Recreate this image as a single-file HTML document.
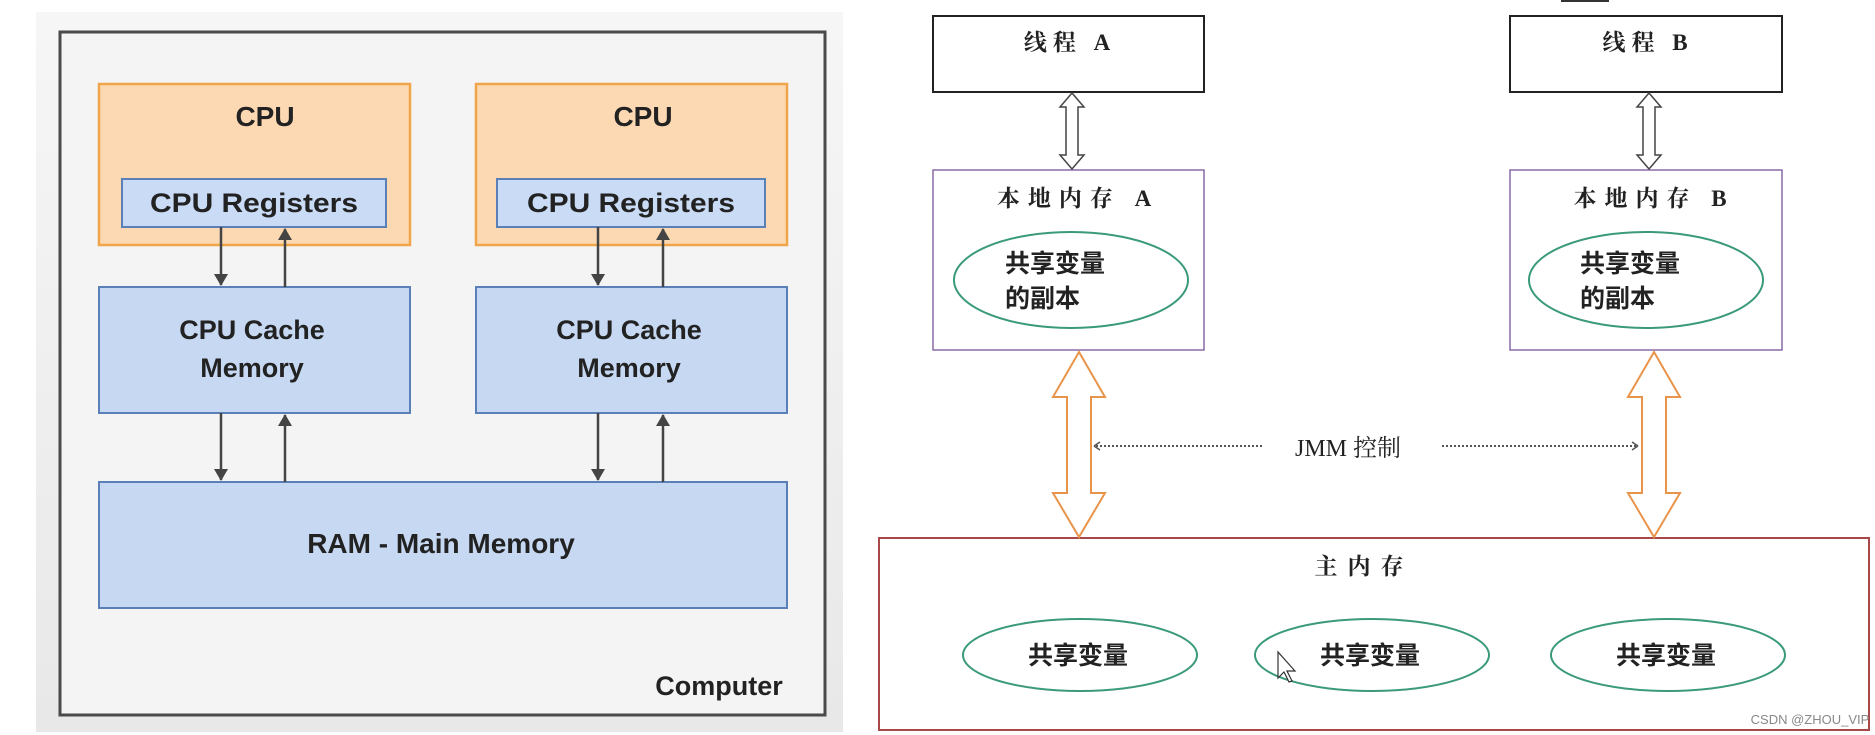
<!DOCTYPE html>
<html><head><meta charset="utf-8"><style>
html,body{margin:0;padding:0;background:#fff;}
svg{display:block;}
</style></head><body>
<svg width="1875" height="735" viewBox="0 0 1875 735" xmlns="http://www.w3.org/2000/svg">
<defs>
<linearGradient id="bg" x1="0" y1="0" x2="0" y2="1"><stop offset="0" stop-color="#f6f6f6"/><stop offset="1" stop-color="#e8e8e8"/></linearGradient>
<marker id="ah" markerWidth="12" markerHeight="14" refX="11" refY="7" orient="auto" markerUnits="userSpaceOnUse"><path d="M0,0 L12,7 L0,14 z" fill="#444"/></marker>
</defs>
<rect x="36" y="12" width="807" height="720" fill="url(#bg)"/>
<rect x="60" y="32" width="765" height="683" fill="#f4f4f4" stroke="#4a4a4a" stroke-width="3"/>
<g font-family="Liberation Sans, sans-serif" font-weight="bold" fill="#222" text-anchor="middle">
<rect x="99" y="84" width="311" height="161" fill="#fcd9b2" stroke="#f0a54a" stroke-width="2.5"/>
<rect x="476" y="84" width="311" height="161" fill="#fcd9b2" stroke="#f0a54a" stroke-width="2.5"/>
<text x="265" y="126" font-size="28">CPU</text>
<text x="643" y="126" font-size="28">CPU</text>
<rect x="122" y="179" width="264" height="48" fill="#c9dbf5" stroke="#5b80b8" stroke-width="2"/>
<rect x="497" y="179" width="268" height="48" fill="#c9dbf5" stroke="#5b80b8" stroke-width="2"/>
<text x="254" y="212" font-size="27" textLength="208" lengthAdjust="spacingAndGlyphs">CPU Registers</text>
<text x="631" y="212" font-size="27" textLength="208" lengthAdjust="spacingAndGlyphs">CPU Registers</text>
<rect x="99" y="287" width="311" height="126" fill="#c6d8f2" stroke="#5b80b8" stroke-width="2"/>
<rect x="476" y="287" width="311" height="126" fill="#c6d8f2" stroke="#5b80b8" stroke-width="2"/>
<text x="252" y="339" font-size="27">CPU Cache</text>
<text x="252" y="377" font-size="27">Memory</text>
<text x="629" y="339" font-size="27">CPU Cache</text>
<text x="629" y="377" font-size="27">Memory</text>
<rect x="99" y="482" width="688" height="126" fill="#c6d8f2" stroke="#5b80b8" stroke-width="2"/>
<text x="441" y="553" font-size="28">RAM - Main Memory</text>
<text x="719" y="695" font-size="27">Computer</text>
</g>
<g stroke="#444" stroke-width="2.5">
<line x1="221" y1="227" x2="221" y2="285" marker-end="url(#ah)"/>
<line x1="285" y1="287" x2="285" y2="229" marker-end="url(#ah)"/>
<line x1="598" y1="227" x2="598" y2="285" marker-end="url(#ah)"/>
<line x1="663" y1="287" x2="663" y2="229" marker-end="url(#ah)"/>
<line x1="221" y1="413" x2="221" y2="480" marker-end="url(#ah)"/>
<line x1="285" y1="482" x2="285" y2="415" marker-end="url(#ah)"/>
<line x1="598" y1="413" x2="598" y2="480" marker-end="url(#ah)"/>
<line x1="663" y1="482" x2="663" y2="415" marker-end="url(#ah)"/>
</g>
<g font-family="Liberation Serif, Noto Serif CJK SC, serif" font-weight="bold" fill="#222" text-anchor="middle">
<rect x="933" y="16" width="271" height="76" fill="#fff" stroke="#222" stroke-width="2"/>
<rect x="1510" y="16" width="272" height="76" fill="#fff" stroke="#222" stroke-width="2"/>
<text x="1070" y="50" font-size="23" letter-spacing="6">线程 A</text>
<text x="1648" y="50" font-size="23" letter-spacing="6">线程 B</text>
<rect x="933" y="170" width="271" height="180" fill="#fff" stroke="#8a6aa8" stroke-width="1.5"/>
<rect x="1510" y="170" width="272" height="180" fill="#fff" stroke="#8a6aa8" stroke-width="1.5"/>
<text x="1078" y="206" font-size="23" letter-spacing="8">本地内存 A</text>
<text x="1654" y="206" font-size="23" letter-spacing="8">本地内存 B</text>
<ellipse cx="1071" cy="280" rx="117" ry="48" fill="#fff" stroke="#3a9a7a" stroke-width="2"/>
<ellipse cx="1646" cy="280" rx="117" ry="48" fill="#fff" stroke="#3a9a7a" stroke-width="2"/>
<g font-family="Liberation Sans, Noto Sans CJK SC, sans-serif" font-weight="bold" text-anchor="start" font-size="25">
<text x="1005" y="272">共享变量</text><text x="1005" y="307">的副本</text>
<text x="1580" y="272">共享变量</text><text x="1580" y="307">的副本</text>
</g>
<rect x="879" y="538" width="990" height="192" fill="#fff" stroke="#a84848" stroke-width="2"/>
<text x="1364" y="574" font-size="23" letter-spacing="10">主内存</text>
<ellipse cx="1080" cy="655" rx="117" ry="36" fill="#fff" stroke="#3a9a7a" stroke-width="2"/>
<ellipse cx="1372" cy="655" rx="117" ry="36" fill="#fff" stroke="#3a9a7a" stroke-width="2"/>
<ellipse cx="1668" cy="655" rx="117" ry="36" fill="#fff" stroke="#3a9a7a" stroke-width="2"/>
<g font-family="Liberation Sans, Noto Sans CJK SC, sans-serif" font-size="25">
<text x="1078" y="664">共享变量</text><text x="1370" y="664">共享变量</text><text x="1666" y="664">共享变量</text>
</g>
<text x="1348" y="456" font-size="24" font-weight="normal">JMM 控制</text>
</g>
<path d="M1072,93 L1084,107 L1078,107 L1078,155 L1084,155 L1072,169 L1060,155 L1066,155 L1066,107 L1060,107 Z" fill="#fff" stroke="#444" stroke-width="1.5"/>
<path d="M1649,93 L1661,107 L1655,107 L1655,155 L1661,155 L1649,169 L1637,155 L1643,155 L1643,107 L1637,107 Z" fill="#fff" stroke="#444" stroke-width="1.5"/>
<path d="M1079,352 L1105,397 L1091,397 L1091,493 L1105,493 L1079,537 L1053,493 L1067,493 L1067,397 L1053,397 Z" fill="#fff" stroke="#e8944a" stroke-width="2"/>
<path d="M1654,352 L1680,397 L1666,397 L1666,493 L1680,493 L1654,537 L1628,493 L1642,493 L1642,397 L1628,397 Z" fill="#fff" stroke="#e8944a" stroke-width="2"/>
<g stroke="#555" stroke-width="2" stroke-dasharray="2,2" fill="none">
<line x1="1096" y1="446" x2="1262" y2="446"/>
<line x1="1442" y1="446" x2="1636" y2="446"/>
</g>
<path d="M1094,446 l6,-4 M1094,446 l6,4 M1638,446 l-6,-4 M1638,446 l-6,4" stroke="#555" stroke-width="1.5"/>
<path d="M1278,652 l0,26 l6,-6 l5,10 l3,-1 l-5,-10 l8,0 z" fill="#fff" stroke="#333" stroke-width="1.2"/>
<line x1="1561" y1="1" x2="1609" y2="1" stroke="#333" stroke-width="2"/>
<text x="1810" y="724" font-family="Liberation Sans, sans-serif" font-size="13" fill="#888" text-anchor="middle">CSDN @ZHOU_VIP</text>
</svg>
</body></html>
